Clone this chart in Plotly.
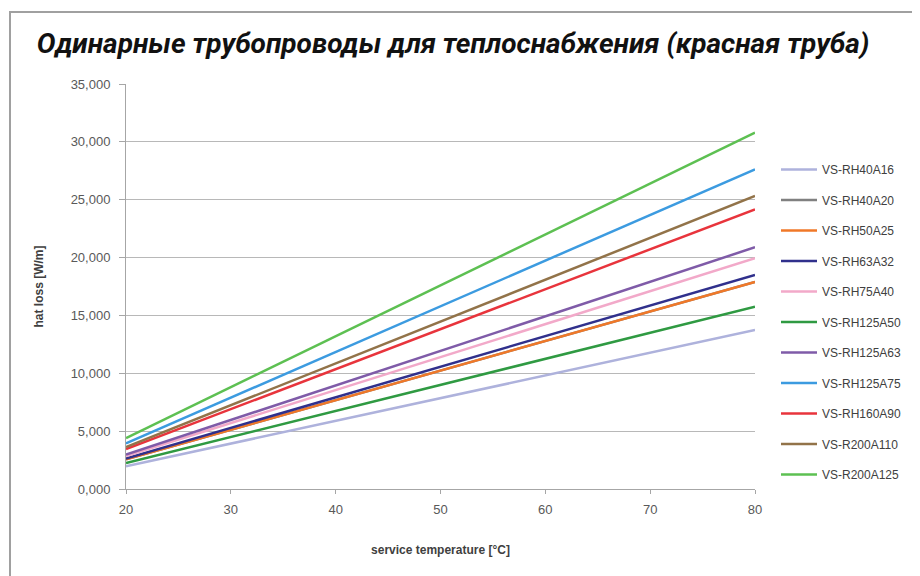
import plotly.graph_objects as go

# data
temperature = [20, 80]

series_names = [
    "VS-RH40A16", "VS-RH40A20", "VS-RH50A25", "VS-RH63A32", "VS-RH75A40",
    "VS-RH125A50", "VS-RH125A63", "VS-RH125A75", "VS-RH160A90",
    "VS-R200A110", "VS-R200A125",
]
heat_loss_20 = [1960, 2560, 2560, 2640, 2850, 2250, 2980, 3950, 3450, 3620, 4400]
heat_loss_80 = [13740, 17900, 17900, 18490, 19940, 15750, 20890, 27630, 24170, 25320, 30790]

colors = [
    "#aeb2dc", "#808080", "#f07828", "#30308c", "#f2a9c9",
    "#2f9a42", "#7f5ba8", "#3c9be0", "#e8343c", "#927349", "#5dc052",
]

y_ticks = [0, 5000, 10000, 15000, 20000, 25000, 30000, 35000]
y_tick_text = ["0,000", "5,000", "10,000", "15,000", "20,000", "25,000", "30,000", "35,000"]
x_ticks = [20, 30, 40, 50, 60, 70, 80]

fig = go.Figure()
for name, y0, y1, c in zip(series_names, heat_loss_20, heat_loss_80, colors):
    fig.add_trace(go.Scatter(
        x=temperature, y=[y0, y1], name=name, mode="lines",
        line=dict(color=c, width=2.5), legendgroup=name,
    ))

# the page body adds an 8px offset, so work in screen pixels and subtract it
OFF = 8
# plot area on screen: x 126..755, y 84..489
L, T = 126 - OFF, 84 - OFF
pw, ph = 629, 405
R, B = 920 - L - pw, 576 - T - ph


def px_x(p):
    return (p - OFF - L) / pw


def px_y(p):
    return (T + ph - (p - OFF)) / ph


tick_font = dict(family="Liberation Sans", size=13, color="#595959")
axis_title_font = dict(family="Liberation Sans", size=12, color="#404040")

fig.update_layout(
    width=920, height=576,
    margin=dict(l=L, r=R, t=T, b=B),
    paper_bgcolor="white", plot_bgcolor="white",
    title=dict(
        text="<b><i>Одинарные трубопроводы для теплоснабжения (красная труба)</i></b>",
        font=dict(family="Roboto", size=28, color="#111111"),
        x=px_x(453), xref="paper", xanchor="center",
        y=1 - (43 - OFF) / 576, yanchor="middle",
    ),
    xaxis=dict(
        range=[20, 80], tickvals=x_ticks, tickfont=tick_font,
        showgrid=False, showline=True, linecolor="#a6a6a6", linewidth=1,
        ticks="outside", ticklen=4, tickcolor="#a6a6a6", ticklabelstandoff=4,
        title=dict(text="<b>service temperature [°C]</b>", font=axis_title_font,
                   standoff=30),
    ),
    yaxis=dict(
        range=[0, 35000], tickvals=y_ticks, ticktext=y_tick_text, tickfont=tick_font,
        showgrid=True, gridcolor="#b8b8b8", gridwidth=1,
        showline=True, linecolor="#a6a6a6", linewidth=1,
        ticks="outside", ticklen=6, tickcolor="#a6a6a6", ticklabelstandoff=6,
        zeroline=False,
        title=dict(text="<b>hat loss [W/m]</b>", font=axis_title_font,
                   standoff=24),
    ),
    legend=dict(
        x=px_x(776), y=px_y(155), xanchor="left", yanchor="top",
        font=dict(family="Liberation Sans", size=12, color="#404040"),
        itemwidth=36, tracegroupgap=11.5, traceorder="grouped",
        bgcolor="rgba(0,0,0,0)",
    ),
    shapes=[dict(
        type="rect", xref="paper", yref="paper",
        x0=px_x(10), x1=px_x(915), y0=px_y(590), y1=px_y(12),
        line=dict(color="#a0a0a0", width=2), fillcolor="rgba(0,0,0,0)",
        layer="below",
    )],
)

fig.write_html("out.html")
